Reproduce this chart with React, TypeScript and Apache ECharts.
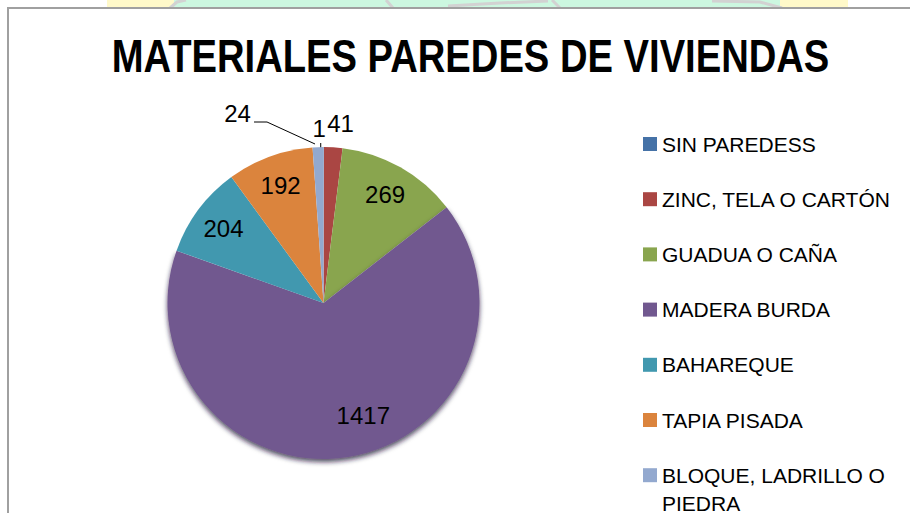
import React, { useEffect, useRef } from 'react';
import * as echarts from 'echarts';

const categories = [
  'SIN PAREDESS',
  'ZINC, TELA O CARTÓN',
  'GUADUA O CAÑA',
  'MADERA BURDA',
  'BAHAREQUE',
  'TAPIA PISADA',
  'BLOQUE, LADRILLO O PIEDRA',
];
const values = [1, 41, 269, 1417, 204, 192, 24];
const colors = ['#4572A7', '#AA4643', '#89A54E', '#71588F', '#4198AF', '#DB843D', '#93A9CF'];
const titleText = 'MATERIALES PAREDES DE VIVIENDAS';
const outsideLabelIdx = [0, 1, 6];

const SANS = "'Liberation Sans', Arial, sans-serif";
const CX = 323.5;
const CY = 303;
const R = 156;

function wrapName(n: string) {
  if (n.length <= 20) return n;
  const cut = n.lastIndexOf(' ', 19);
  return `{w|${n.slice(0, cut)}\n${n.slice(cut + 1)}}`;
}

export default function App() {
  const ref = useRef<HTMLDivElement>(null);
  useEffect(() => {
    document.body.style.margin = '0';
    const chart = echarts.init(ref.current!, null, { renderer: 'svg' });
    const labelFont = { fontFamily: SANS, fontSize: 24, color: '#000' };
    const grey = { stroke: '#D2D2D2', lineWidth: 3, fill: null };
    const option: any = {
      animation: false,
      graphic: [
        { type: 'rect', silent: true, shape: { x: 107, y: 0, width: 67, height: 8 }, style: { fill: '#FFF9C9' } },
        { type: 'rect', silent: true, shape: { x: 174, y: 0, width: 606, height: 8 }, style: { fill: '#CCF7E0' } },
        { type: 'rect', silent: true, shape: { x: 780, y: 0, width: 68, height: 8 }, style: { fill: '#FFF9C9' } },
        { type: 'polyline', silent: true, shape: { points: [[170, 8], [177, 2], [186, 0]] }, style: grey },
        { type: 'polyline', silent: true, shape: { points: [[386, 0], [393, 8]] }, style: grey },
        { type: 'polyline', silent: true, shape: { points: [[448, 6], [500, 3], [548, 1]] }, style: grey },
        { type: 'polyline', silent: true, shape: { points: [[552, 0], [560, 8]] }, style: grey },
        { type: 'polyline', silent: true, shape: { points: [[712, 1], [760, 2], [782, 8]] }, style: grey },
        { type: 'rect', silent: true, shape: { x: 8, y: 8, width: 1000, height: 1000 }, style: { fill: '#FFFFFF', stroke: '#A0A0A0', lineWidth: 2 } },
        {
          type: 'text',
          silent: true,
          x: 470.5,
          y: 56,
          scaleX: 0.83,
          style: {
            text: titleText,
            fontFamily: SANS,
            fontWeight: 'bold',
            fontSize: 46,
            fill: '#000',
            textAlign: 'center',
            textVerticalAlign: 'middle',
          },
        },
      ],
      legend: {
        orient: 'vertical',
        left: 643,
        top: 130,
        height: 440,
        padding: 0,
        itemWidth: 14,
        itemHeight: 14,
        itemGap: 27.2,
        icon: 'rect',
        data: categories.map((name) => ({ name })),
        formatter: wrapName,
        textStyle: {
          fontFamily: SANS,
          fontSize: 21,
          color: '#000',
          lineHeight: 28,
          height: 28,
          rich: { w: { fontFamily: SANS, fontSize: 21, color: '#000', lineHeight: 28 } },
        },
      },
      series: [
        {
          type: 'pie',
          name: 'main',
          center: [CX, CY],
          radius: R,
          startAngle: 90,
          clockwise: true,
          avoidLabelOverlap: false,
          emphasis: { disabled: true },
          label: { show: true, position: 'outside', formatter: '{c}', ...labelFont },
          labelLine: { show: true, length: 5, length2: 0, lineStyle: { color: '#000', width: 1 } },
          data: categories.map((name, i) => ({
            name,
            value: values[i],
            itemStyle:
              i === 3
                ? { color: colors[i], shadowColor: 'rgba(30,20,50,0.75)', shadowBlur: 5, shadowOffsetY: 3 }
                : { color: colors[i] },
            label: { show: outsideLabelIdx.includes(i) },
            labelLine: { show: i === 0 || i === 6 },
          })),
          labelLayout: (p: any) => {
            const r = p.rect;
            const ax = r.x + r.width / 2;
            const ay = r.y;
            if (p.dataIndex === 0)
              return { x: ax - 4.5, y: ay - 19, align: 'center', verticalAlign: 'middle', labelLinePoints: [[ax - 3, ay + 1], [ax - 3, ay - 4]] };
            if (p.dataIndex === 1) return { x: ax + 7.5, y: ay - 24, align: 'center', verticalAlign: 'middle' };
            if (p.dataIndex === 6)
              return {
                x: ax - 80.5,
                y: ay - 34,
                align: 'center',
                verticalAlign: 'middle',
                labelLinePoints: [[ax - 3, ay - 3], [ax - 51, ay - 25], [ax - 64, ay - 25]],
              };
            return {};
          },
        },
        {
          type: 'pie',
          name: 'labels',
          silent: true,
          center: [CX, CY],
          radius: [R * 0.56, R],
          startAngle: 90,
          clockwise: true,
          avoidLabelOverlap: false,
          emphasis: { disabled: true },
          itemStyle: { color: 'transparent', borderWidth: 0 },
          label: { show: true, position: 'inside', formatter: '{c}', ...labelFont },
          labelLine: { show: false },
          data: categories.map((name, i) => ({
            name,
            value: values[i],
            label: { show: !outsideLabelIdx.includes(i) },
          })),
          labelLayout: (p: any) => (p.dataIndex === 3 ? { dx: 20, dy: -11 } : {}),
        },
      ],
    };
    chart.setOption(option);
    return () => chart.dispose();
  }, []);
  return <div ref={ref} style={{ width: 910, height: 513 }} />;
}
